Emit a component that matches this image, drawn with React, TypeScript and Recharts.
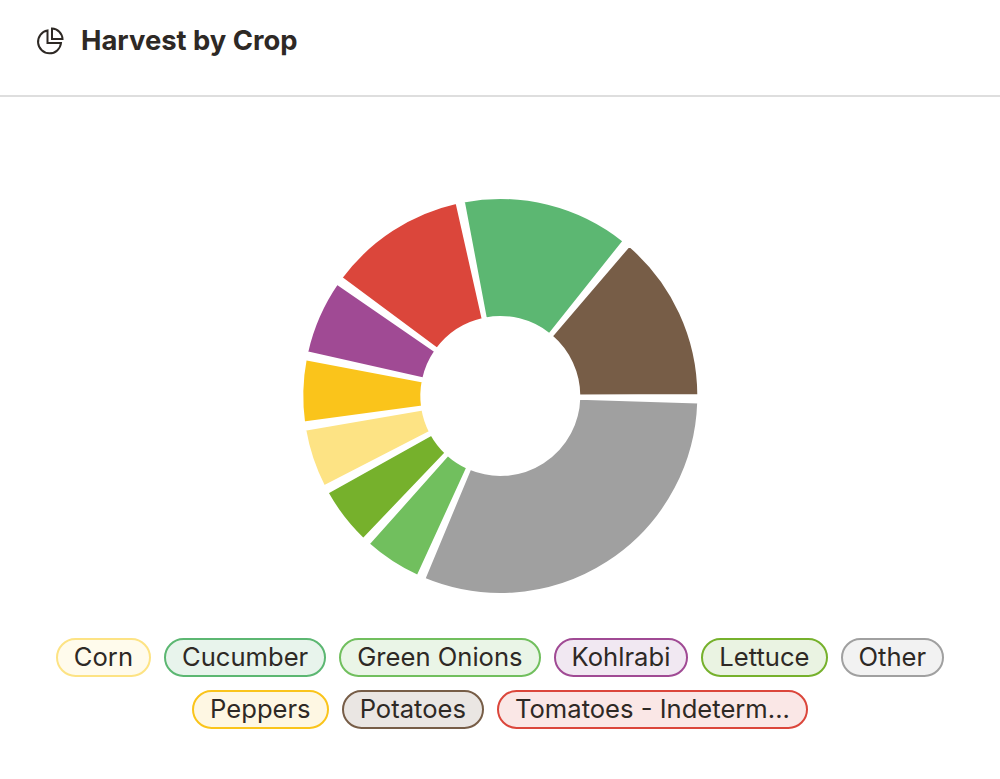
import React from 'react';
import { PieChart, Pie, Cell } from 'recharts';

const crops = ['Other', 'Green Onions', 'Lettuce', 'Corn', 'Peppers', 'Kohlrabi', 'Tomatoes - Indeterm...', 'Cucumber', 'Potatoes'];
const harvest = [32.4, 5.0, 5.0, 5.1, 5.4, 6.4, 11.9, 14.4, 14.4];
const colors = ['#a0a0a0', '#71bf5e', '#76b12c', '#fde384', '#fac41b', '#a04a94', '#db463b', '#5cb772', '#775d47'];
const tints = ['#f2f2f2', '#eaf5e7', '#eaf3e2', '#fffbec', '#fef7e3', '#f1e8f2', '#fae7e6', '#e8f4ec', '#eae6e3'];
const legendOrder = ['Corn', 'Cucumber', 'Green Onions', 'Kohlrabi', 'Lettuce', 'Other', 'Peppers', 'Potatoes', 'Tomatoes - Indeterm...'];

const chartData = crops.map((name, i) => ({ name, value: harvest[i] }));
const textColor = '#2e2925';

function PieIcon() {
  return (
    <svg width="30" height="30" viewBox="0 0 30 30" fill="none" stroke={textColor} strokeWidth="2" style={{ position: 'absolute', left: 35, top: 26 }}>
      <path d="M12.5 4.5 A11.5 11.5 0 1 0 26 17 H12.5 Z" />
      <path d="M17 2.5 A11 11 0 0 1 27.5 13 H17 Z" />
    </svg>
  );
}

export default function App() {
  return (
    <div style={{ position: 'absolute', left: 0, top: 0, width: 1000, height: 779, background: '#fff', fontFamily: 'Inter, sans-serif', color: textColor }}>
      <PieIcon />
      <div style={{ position: 'absolute', left: 81, top: 23, fontSize: 27.4, fontWeight: 700, lineHeight: '34px' }}>Harvest by Crop</div>
      <div style={{ position: 'absolute', left: 0, top: 95, width: 1000, height: 2, background: '#dedede' }} />
      <div style={{ position: 'absolute', left: 0, top: 97 }}>
        <PieChart width={1000} height={520} margin={{ top: 0, right: 0, bottom: 0, left: 0 }}>
          <Pie
            data={chartData}
            dataKey="value"
            nameKey="name"
            cx={500.3}
            cy={299}
            innerRadius={78.75}
            outerRadius={198.25}
            startAngle={-1.8}
            endAngle={-361.8}
            paddingAngle={2}
            stroke="#fff"
            strokeWidth={2.5}
            isAnimationActive={false}
          >
            {chartData.map((d, i) => (
              <Cell key={d.name} fill={colors[i]} />
            ))}
          </Pie>
        </PieChart>
      </div>
      <div style={{ position: 'absolute', left: 40, top: 638, width: 920, display: 'flex', flexWrap: 'wrap', justifyContent: 'center', gap: '13px 13px' }}>
        {legendOrder.map(name => {
          const i = crops.indexOf(name);
          return (
            <div
              key={name}
              style={{
                boxSizing: 'border-box',
                height: 39,
                lineHeight: '34px',
                padding: '0 16px',
                fontSize: 25.6,
                borderRadius: 20,
                border: `2px solid ${colors[i]}`,
                background: tints[i],
                whiteSpace: 'nowrap'
              }}
            >
              {name}
            </div>
          );
        })}
      </div>
    </div>
  );
}
